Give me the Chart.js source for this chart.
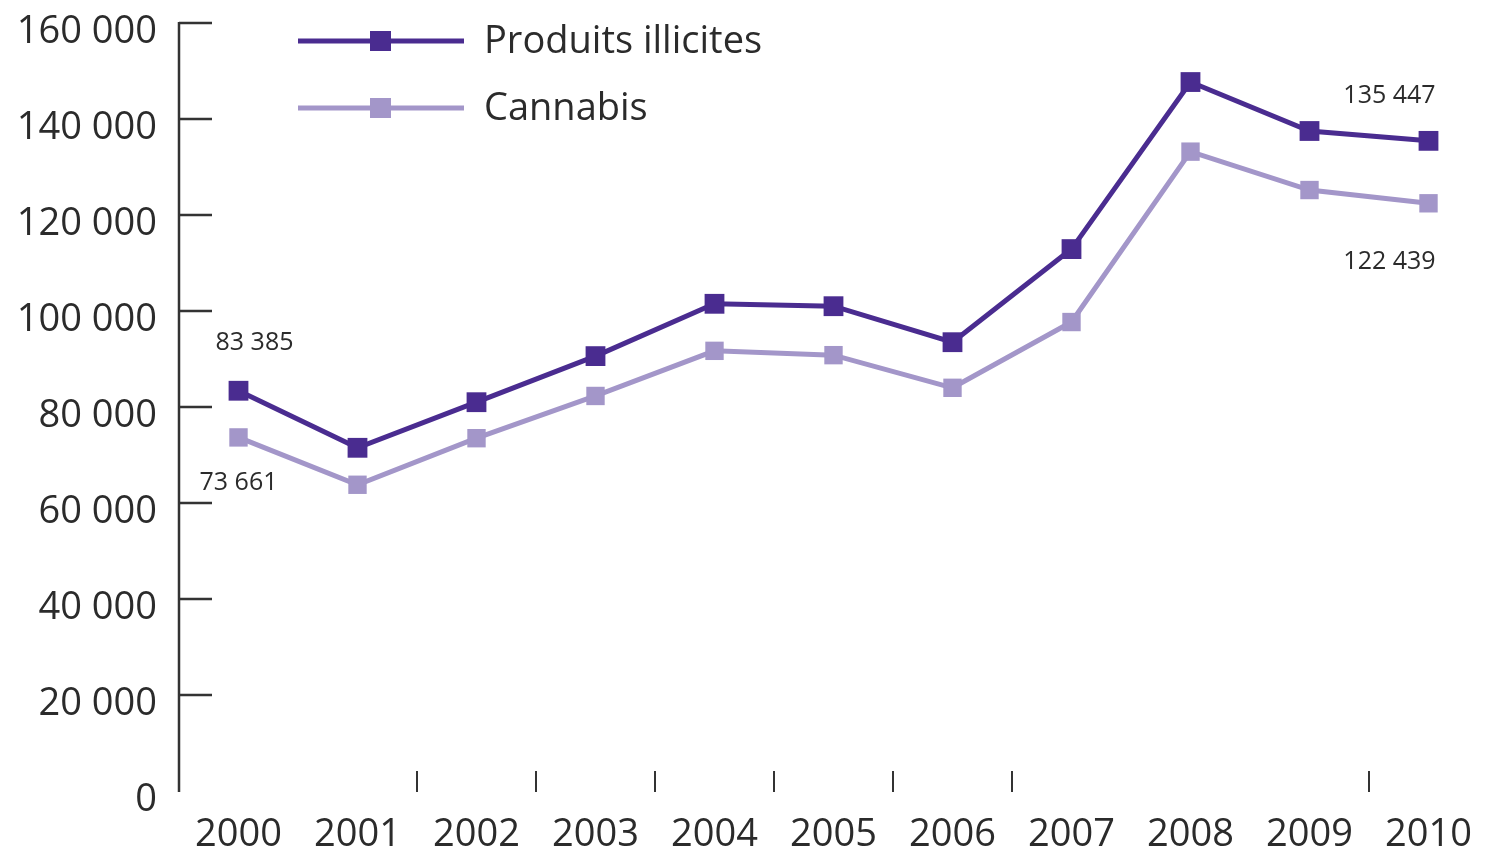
<!DOCTYPE html>
<html>
<head>
<meta charset="utf-8">
<script src="https://cdn.jsdelivr.net/npm/chart.js@4"></script>
<style>
  html, body { margin: 0; padding: 0; background: #fff; }
  #wrap { width: 1488px; height: 853px; }
</style>
</head>
<body>
<div id="wrap"><canvas id="drugChart" width="1488" height="853"></canvas></div>
<script>
const years = ['2000', '2001', '2002', '2003', '2004', '2005', '2006', '2007', '2008', '2009', '2010'];
const illicites = [83385, 71500, 81000, 90600, 101500, 101000, 93500, 112900, 147700, 137500, 135447];
const cannabis = [73661, 63800, 73500, 82300, 91700, 90800, 84000, 97700, 133200, 125200, 122439];
const yTicks = [0, 20000, 40000, 60000, 80000, 100000, 120000, 140000, 160000];
// small tick marks drawn along the bottom, between years
const xTickGaps = [1.5, 2.5, 3.5, 4.5, 5.5, 6.5, 9.5];

const darkPurple = '#4a2c90';
const lightPurple = '#a396c9';
const textColor = '#2b2b2b';
const fontFamily = "'Open Sans', 'DejaVu Sans', sans-serif";

function fmt(v) {
    return String(v).replace(/\B(?=(\d{3})+(?!\d))/g, ' ');
}

// axes, inward ticks, labels, legend and end labels
const decorPlugin = {
    id: 'decor',
    afterDraw(chart) {
        const ctx = chart.ctx;
        const area = chart.chartArea;
        const y = chart.scales.y;
        const x = chart.scales.x;
        ctx.save();

        // y axis
        ctx.strokeStyle = '#333';
        ctx.lineWidth = 2.5;
        ctx.beginPath();
        ctx.moveTo(area.left, y.getPixelForValue(160000) - 1);
        ctx.lineTo(area.left, y.getPixelForValue(0) + 1);
        ctx.stroke();

        ctx.font = '38px ' + fontFamily;
        ctx.fillStyle = textColor;
        ctx.textAlign = 'right';
        ctx.textBaseline = 'middle';
        yTicks.forEach(v => {
            const py = y.getPixelForValue(v);
            if (v > 0) {
                ctx.beginPath();
                ctx.moveTo(area.left, py);
                ctx.lineTo(area.left + 33, py);
                ctx.stroke();
            }
            ctx.fillText(fmt(v), area.left - 22, py + 9);
        });

        // year labels
        const base = y.getPixelForValue(0);
        ctx.textAlign = 'center';
        years.forEach((yr, i) => {
            ctx.fillText(yr, x.getPixelForValue(i), base + 44);
        });

        // little ticks at the bottom
        ctx.lineWidth = 2;
        const step = x.getPixelForValue(1) - x.getPixelForValue(0);
        xTickGaps.forEach(g => {
            const px = x.getPixelForValue(g - 0.5) + step / 2;
            ctx.beginPath();
            ctx.moveTo(px, base - 20);
            ctx.lineTo(px, base + 1);
            ctx.stroke();
        });

        // legend
        const rows = [41, 108];
        chart.data.datasets.forEach((ds, i) => {
            const ly = rows[i];
            ctx.strokeStyle = ds.borderColor;
            ctx.lineWidth = 5;
            ctx.beginPath();
            ctx.moveTo(298, ly);
            ctx.lineTo(464, ly);
            ctx.stroke();
            ctx.fillStyle = ds.borderColor;
            ctx.fillRect(370, ly - 10, 21, 20);
            ctx.fillStyle = textColor;
            ctx.textAlign = 'left';
            ctx.font = '38px ' + fontFamily;
            ctx.fillText(ds.label, 484, ly + 1);
        });

        // first / last value labels
        ctx.font = '25px ' + fontFamily;
        ctx.fillStyle = textColor;
        ctx.textAlign = 'center';
        const m0 = chart.getDatasetMeta(0).data;
        const m1 = chart.getDatasetMeta(1).data;
        const last = years.length - 1;
        ctx.fillText(fmt(illicites[0]), m0[0].x + 16, m0[0].y - 48);
        ctx.fillText(fmt(cannabis[0]), m1[0].x, m1[0].y + 45);
        ctx.fillText(fmt(illicites[last]), m0[last].x - 39, m0[last].y - 45);
        ctx.fillText(fmt(cannabis[last]), m1[last].x - 39, m1[last].y + 59);

        ctx.restore();
    }
};

const config = {
    type: 'line',
    data: {
        labels: years,
        datasets: [{
            label: 'Produits illicites',
            data: illicites,
            borderColor: darkPurple,
            backgroundColor: darkPurple,
            borderWidth: 5,
            pointStyle: 'rect',
            pointRadius: 14,
            pointBorderWidth: 0,
            tension: 0
        }, {
            label: 'Cannabis',
            data: cannabis,
            borderColor: lightPurple,
            backgroundColor: lightPurple,
            borderWidth: 5,
            pointStyle: 'rect',
            pointRadius: 13,
            pointBorderWidth: 0,
            tension: 0
        }]
    },
    options: {
        responsive: false,
        animation: false,
        layout: {
            autoPadding: false,
            padding: { left: 179, top: 23, right: -5, bottom: 62 }
        },
        plugins: {
            legend: { display: false },
            tooltip: { enabled: false }
        },
        scales: {
            y: {
                display: false,
                min: 0,
                max: 160000
            },
            x: {
                display: false,
                offset: true
            }
        }
    },
    plugins: [decorPlugin]
};

const ctx = document.getElementById('drugChart');
if (ctx) {
    new Chart(ctx.getContext('2d'), config);
} else {
    console.error('Cannot find element with id "drugChart"');
}
</script>
</body>
</html>
